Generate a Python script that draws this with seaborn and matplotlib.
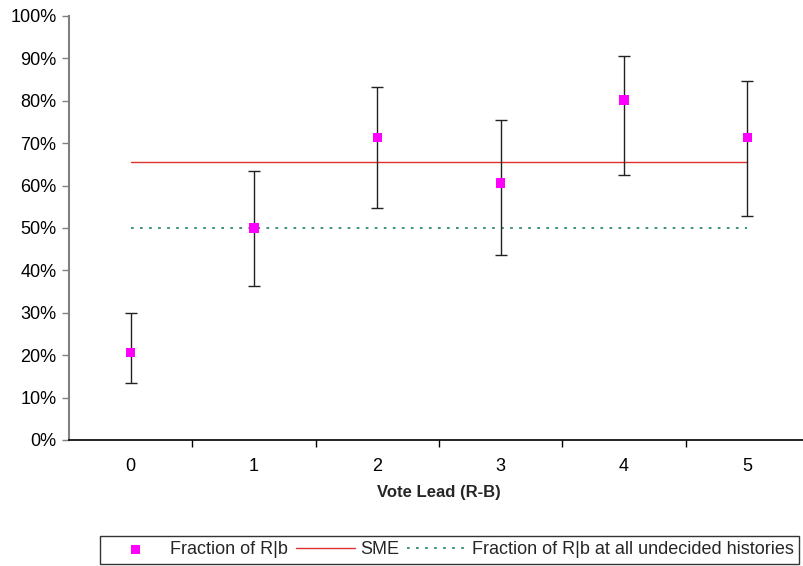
import numpy as np
import pandas as pd
import matplotlib
matplotlib.use("Agg")
import matplotlib.pyplot as plt
import seaborn as sns
from matplotlib.ticker import FixedLocator, PercentFormatter

# ---- data ----
vote_lead = [0, 1, 2, 3, 4, 5]
fraction_rb = [20.7, 50.0, 71.4, 60.6, 80.2, 71.4]
err_upper = [30.0, 63.5, 83.3, 75.4, 90.6, 84.7]
err_lower = [13.5, 36.3, 54.8, 43.6, 62.6, 52.8]
sme_level = 65.6
undecided_level = 50.0
y_ticks = [0, 10, 20, 30, 40, 50, 60, 70, 80, 90, 100]

sns.set_theme(style="white")
plt.rcParams['font.family'] = ['Liberation Sans', 'DejaVu Sans']

df = pd.DataFrame({"lead": vote_lead, "frac": fraction_rb,
                   "hi": err_upper, "lo": err_lower})
df["sme"] = sme_level
df["und"] = undecided_level

fig = plt.figure(figsize=(8.04, 5.66), dpi=100)
ax = fig.add_axes([69/804, 126/566, 740/804, 424/566])

# error bars
yerr = np.vstack([df["frac"] - df["lo"], df["hi"] - df["frac"]])
ax.errorbar(df["lead"], df["frac"], yerr=yerr, fmt="none", ecolor="#222222",
            elinewidth=1.0, capsize=4, capthick=1.0, zorder=2)

sns.lineplot(data=df, x="lead", y="sme", ax=ax, color="#e03030", linewidth=1.0,
             label="SME", zorder=1)
sns.lineplot(data=df, x="lead", y="und", ax=ax, color="#2e8b6e", linewidth=1.3,
             linestyle=(0, (1.5, 3.5)), label="Fraction of R|b at all undecided histories", zorder=1)
sns.scatterplot(data=df, x="lead", y="frac", ax=ax, marker="s", s=45, color="#ff00ff",
                edgecolor="none", label="Fraction of R|b", zorder=3)

ax.set_xlim(-0.5, 5.5)
ax.set_ylim(0, 100)
ax.yaxis.set_major_locator(FixedLocator(y_ticks))
ax.yaxis.set_major_formatter(PercentFormatter(decimals=0))
ax.set_xticks(vote_lead)
ax.set_xticklabels([str(v) for v in vote_lead])
ax.xaxis.set_minor_locator(FixedLocator([0.5, 1.5, 2.5, 3.5, 4.5]))
ax.tick_params(axis="x", which="major", length=0, labelsize=13, pad=13)
ax.tick_params(axis="x", which="minor", length=5, width=1, color="black", direction="out", bottom=True)
ax.tick_params(axis="y", which="major", length=5, width=1, color="#808080", direction="out",
               left=True, labelsize=13, pad=4)
for lab in ax.get_yticklabels() + ax.get_xticklabels():
    lab.set_color("black")

for s in ["top", "right"]:
    ax.spines[s].set_visible(False)
ax.spines["left"].set_color("#808080")
ax.spines["left"].set_linewidth(1.5)
ax.spines["bottom"].set_color("black")
ax.spines["bottom"].set_linewidth(1.2)

ax.set_xlabel("Vote Lead (R-B)", fontsize=12, fontweight="bold", labelpad=7)
ax.set_ylabel("")

handles, labels = ax.get_legend_handles_labels()
order = [labels.index("Fraction of R|b"), labels.index("SME"),
         labels.index("Fraction of R|b at all undecided histories")]
ax.get_legend().remove()
leg = fig.legend([handles[i] for i in order], [labels[i] for i in order],
                 loc="upper left", bbox_to_anchor=(100/804, 1 - 536/566), ncol=3,
                 frameon=True, fancybox=False, fontsize=13, handlelength=3.3,
                 columnspacing=0.4, handletextpad=0.3, borderpad=0.3, borderaxespad=0)
leg.get_frame().set_edgecolor("black")
leg.get_frame().set_linewidth(1.0)

fig.savefig("out.png", dpi=100)
